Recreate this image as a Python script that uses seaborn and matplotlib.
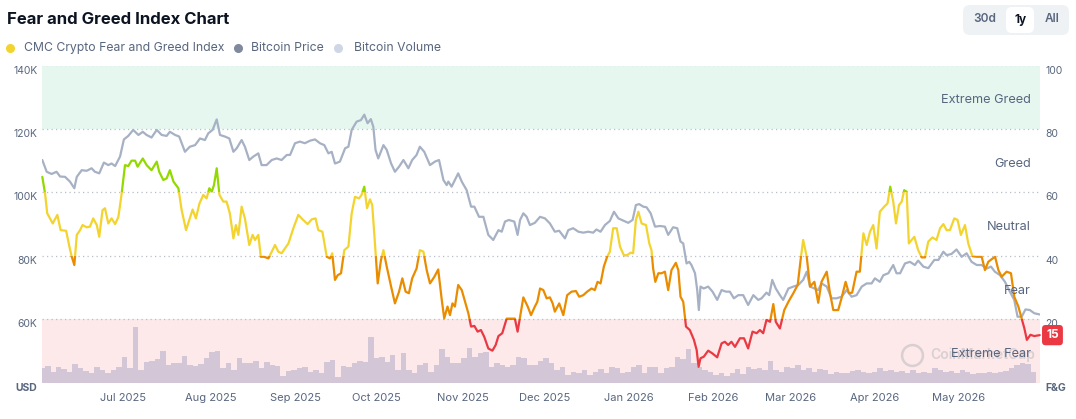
#!/usr/bin/env python3
"""Fear and Greed Index chart: F&G index, Bitcoin price and volume over one year."""

import numpy as np
import pandas as pd
import matplotlib
matplotlib.use("Agg")
import matplotlib.pyplot as plt
import matplotlib.dates as mdates
from matplotlib.patches import Rectangle, FancyBboxPatch
from matplotlib.lines import Line2D
from matplotlib.transforms import IdentityTransform, blended_transform_factory
import seaborn as sns

# ------------------------------------------------------------------
# Data, days counted from START_DATE
# ------------------------------------------------------------------
START_DATE = "2025-06-10"
END_DAY = 364.4

price_day = [
    0.0, 1.6, 3.4, 5.2, 6.5, 8.3, 10.1, 11.7, 12.6, 14.4,
    16.2, 18.0, 19.2, 20.8, 22.5, 24.1, 25.3, 26.6, 28.4, 29.8,
    31.4, 33.2, 35.1, 36.7, 38.1, 39.9, 41.8, 43.6, 45.4, 46.6,
    48.5, 50.0, 52.1, 53.9, 55.8, 57.6, 59.4, 60.6, 62.2, 63.7,
    64.9, 66.7, 68.3, 69.8, 71.0, 72.8, 74.0, 75.6, 77.1, 78.9,
    80.1, 81.9, 83.8, 85.6, 87.4, 89.3,
    90.5, 92.3, 94.1, 95.9, 97.8, 99.6, 101.4, 103.0, 104.5, 105.7,
    106.9, 108.7, 110.6, 111.8, 113.0, 114.8, 116.4, 117.6, 118.8, 120.0,
    120.9, 121.7, 122.7, 124.6, 125.8, 127.4, 128.8, 130.3, 131.9, 133.7,
    135.1, 136.7, 137.9, 139.5, 141.6, 143.4, 144.9, 146.5, 147.7, 148.3,
    149.5, 150.7, 151.9, 153.2, 155.0, 156.6, 157.8, 159.5, 161.1, 162.9,
    164.7, 166.6, 167.8, 169.0, 170.4, 172.4, 173.6, 174.5, 175.7, 176.9,
    178.1, 179.9,
    181.8, 183.6, 185.4, 187.2, 188.8, 190.9, 192.1, 193.9, 195.8, 197.6,
    199.4, 201.2, 202.4, 203.9, 205.5, 207.3, 208.8, 210.4, 212.2, 214.0,
    215.6, 216.8, 218.0, 219.5, 220.7, 222.2, 223.8, 225.6, 227.4, 228.6,
    230.4, 231.9, 233.1, 234.1, 235.3, 236.3, 237.1, 238.4, 239.2, 239.8,
    240.4, 241.6, 243.2, 244.8, 246.5, 248.1, 249.7, 251.1, 252.6, 254.2,
    256.0, 257.8, 259.7, 261.5, 262.7, 264.5, 265.5, 266.6, 267.9, 269.4,
    270.6, 272.5, 274.3, 276.1, 277.9, 279.2, 280.4, 282.0, 283.4, 284.6,
    286.5, 288.3, 290.1, 291.9, 293.8, 295.6, 297.4, 299.3, 301.1, 302.9,
    304.1, 305.9, 307.2, 309.0, 310.8, 312.0, 313.3, 315.1, 316.9, 318.7,
    319.9, 321.8, 323.6, 325.8, 327.3, 329.1, 330.3, 332.1, 333.9, 335.8,
    337.6, 339.4, 341.3, 343.1, 344.9, 346.5, 347.9, 349.8, 351.6, 353.4,
    355.0, 356.2, 357.7, 359.1, 360.7, 362.3, 364.3,
]
price_k = [
    110.2, 106.5, 105.8, 106.5, 105.0, 104.9, 103.4, 101.3, 104.9, 107.0,
    106.8, 107.6, 106.5, 106.0, 109.4, 108.6, 109.1, 108.3, 111.3, 116.7,
    117.8, 119.7, 118.1, 119.1, 118.1, 117.3, 119.7, 118.1, 117.8, 119.1,
    118.1, 117.6, 112.8, 114.4, 114.9, 117.0, 116.5, 118.6, 119.7, 123.0,
    118.1, 117.6, 117.0, 112.8, 113.9, 116.5, 114.4, 110.2, 111.3, 112.3,
    108.6, 108.6, 110.2, 110.7, 110.2, 111.8,
    111.8, 115.5, 116.0, 115.5, 116.3, 116.7, 115.5, 114.9, 112.3, 112.8,
    109.1, 109.7, 113.9, 114.4, 119.7, 122.3, 122.8, 124.5, 121.8, 123.1,
    120.7, 113.4, 110.7, 114.9, 113.4, 109.1, 106.5, 108.1, 110.2, 107.6,
    110.2, 111.8, 114.4, 112.8, 108.6, 109.7, 110.2, 103.9, 102.3, 103.4,
    101.8, 103.9, 106.0, 103.4, 100.7, 95.5, 95.5, 92.3, 92.3, 86.6,
    85.0, 88.1, 87.6, 90.8, 91.3, 90.8, 86.6, 91.3, 93.4, 92.3,
    89.7, 90.4,
    92.3, 91.8, 90.2, 87.6, 87.9, 85.5, 88.1, 88.7, 87.6, 87.3,
    87.6, 87.3, 88.3, 87.6, 89.7, 91.0, 93.9, 91.8, 91.1, 90.4,
    91.3, 96.0, 96.3, 95.5, 95.3, 93.4, 89.2, 89.4, 89.2, 86.6,
    89.0, 88.7, 84.5, 83.9, 77.6, 78.1, 77.1, 74.5, 69.2, 62.9,
    70.3, 69.7, 70.3, 68.7, 66.1, 69.2, 68.7, 68.7, 66.6, 67.6,
    67.6, 64.5, 67.6, 66.1, 66.6, 68.4, 67.6, 72.4, 69.7, 67.6,
    66.1, 69.7, 70.3, 70.8, 72.4, 75.0, 70.3, 69.7, 69.2, 71.3,
    70.3, 66.6, 66.6, 67.1, 69.2, 67.1, 67.6, 70.3, 71.3, 71.3,
    72.9, 71.8, 73.9, 74.5, 77.1, 74.5, 74.5, 77.6, 78.1, 77.1,
    78.5, 76.6, 76.1, 78.7, 78.7, 81.3, 80.2, 80.6, 82.0, 79.7,
    80.8, 78.1, 77.1, 77.1, 76.0, 76.6, 75.0, 73.9, 71.8, 68.7,
    66.1, 60.8, 60.8, 63.1, 62.9, 61.9, 61.5,
]

fg_day = [
    0.0, 1.0, 1.8, 3.8, 5.5, 6.7, 8.7, 9.9, 10.7, 11.7,
    12.6, 13.8, 14.7, 16.2, 17.4, 18.6, 19.9, 20.8, 22.0, 22.9,
    24.1, 25.3, 26.6, 27.8, 29.0, 30.2, 31.4, 32.6, 33.9, 34.8,
    36.7, 38.1, 39.9, 41.8, 42.7, 44.2, 45.4, 46.6, 47.9, 49.7,
    50.9, 52.5, 53.7, 54.9, 56.1, 57.4, 58.8, 60.0, 61.0, 61.9,
    62.7, 63.7, 64.7, 66.1, 67.3, 68.5, 69.8, 70.7, 71.6, 72.8,
    74.0, 75.6, 76.8, 77.7, 78.9, 79.8, 81.0, 82.6, 83.8, 85.0,
    86.2, 87.4, 88.6, 89.9,
    91.7, 93.5, 95.3, 96.9, 98.4, 99.8, 100.8, 102.3, 103.9, 105.1,
    105.9, 106.9, 107.9, 109.1, 110.3, 111.8, 113.0, 114.2, 115.7, 116.6,
    117.6, 118.6, 119.7, 120.5, 121.5, 122.5, 123.7, 124.6, 125.8, 127.4,
    128.8, 130.3, 131.5, 132.7, 133.9, 135.1, 136.7, 137.9, 139.2, 140.4,
    141.6, 143.2, 144.6, 145.9, 146.8, 148.0, 148.9, 149.8, 150.7, 151.9,
    153.2, 154.4, 155.6, 156.6, 157.8, 159.0, 160.2, 161.4, 162.9, 164.4,
    165.6, 166.6, 168.0, 169.6, 171.2, 172.6, 173.6, 174.5, 175.7, 177.3,
    178.5, 179.9,
    180.8, 181.8, 183.0, 184.2, 185.4, 186.4, 187.2, 188.8, 190.3, 191.7,
    193.3, 194.9, 196.1, 197.6, 199.0, 200.6, 201.8, 202.8, 203.9, 205.1,
    206.3, 207.3, 208.5, 209.8, 211.0, 212.4, 213.6, 214.9, 215.8, 216.8,
    217.7, 218.9, 220.5, 221.7, 222.5, 223.1, 223.9, 225.0, 226.2, 227.4,
    228.6, 229.8, 231.4, 232.3, 233.1, 234.1, 235.1, 236.5, 238.0, 239.0,
    239.7, 240.4, 241.6, 243.2, 244.8, 246.5, 248.1, 249.3, 250.5, 251.7,
    253.0, 254.8, 256.3, 257.8, 259.4, 260.9, 262.1, 263.3, 264.5, 265.8,
    267.0, 267.9, 269.4,
    271.0, 272.5, 274.3, 275.9, 277.1, 277.9, 279.2, 280.4, 282.0, 283.4,
    284.6, 286.5, 287.7, 288.9, 290.7, 291.9, 293.4, 294.6, 295.8, 297.4,
    298.6, 299.9, 301.1, 302.3, 303.5, 304.7, 305.9, 307.5, 308.7, 309.7,
    310.8, 311.8, 312.9, 313.9, 314.8, 315.7, 316.5, 317.5, 318.5, 319.9,
    321.2, 322.4, 323.6, 325.1, 326.6, 327.9, 329.1, 330.3, 331.5, 333.1,
    334.3, 335.5, 337.0, 338.2, 339.7, 341.3, 343.1, 344.3, 345.5, 346.7,
    348.0, 349.2, 350.4, 352.2, 353.8, 355.0, 356.5, 357.7, 358.7, 359.6,
    360.9, 362.3, 364.3,
]
fg_val = [
    64.9, 59.7, 53.4, 50.2, 52.9, 48.1, 47.9, 42.9, 39.9, 37.1,
    46.6, 48.1, 49.7, 49.0, 49.2, 51.8, 49.7, 46.0, 54.4, 55.0,
    50.2, 51.8, 50.0, 52.3, 59.7, 68.6, 68.3, 70.0, 70.0, 68.1,
    70.7, 68.6, 67.0, 69.7, 66.5, 63.9, 64.4, 67.0, 63.4, 61.3,
    54.4, 48.1, 51.3, 54.6, 51.8, 56.5, 59.2, 58.1, 61.3, 60.2,
    62.3, 67.6, 59.2, 57.1, 57.1, 53.4, 45.5, 49.7, 46.6, 55.5,
    51.8, 43.4, 46.6, 45.0, 46.6, 39.7, 39.7, 39.2, 41.3, 43.4,
    41.3, 40.8, 42.3, 43.9,
    48.7, 52.9, 51.3, 50.0, 51.5, 51.8, 48.1, 47.6, 39.7, 39.2,
    40.8, 32.4, 33.9, 34.5, 41.8, 42.9, 53.4, 58.6, 58.1, 59.2,
    61.8, 55.0, 57.8, 56.0, 43.9, 31.3, 38.7, 41.8, 36.6, 30.3,
    25.0, 28.7, 32.9, 28.7, 28.2, 32.9, 36.0, 41.8, 41.3, 35.5,
    31.3, 33.4, 35.7, 26.1, 20.3, 24.0, 21.3, 25.0, 24.0, 30.8,
    29.2, 25.5, 21.9, 17.7, 17.9, 16.1, 16.6, 14.5, 10.8, 10.1,
    11.9, 14.7, 15.6, 20.2, 20.2, 20.2, 16.1, 20.8, 26.9, 24.0,
    21.3, 24.0,
    25.5, 29.7, 29.2, 26.6, 26.9, 25.0, 22.4, 25.0, 21.3, 27.6,
    28.7, 28.9, 27.1, 27.6, 28.7, 29.7, 29.2, 31.8, 31.3, 36.6,
    39.7, 41.3, 48.7, 48.7, 42.9, 40.2, 40.2, 41.0, 40.8, 51.3,
    53.9, 50.2, 49.7, 43.9, 41.8, 36.0, 31.8, 34.5, 34.5, 35.0,
    29.2, 35.5, 37.8, 35.5, 27.1, 25.5, 17.7, 16.6, 13.5, 10.3,
    5.0, 7.7, 8.2, 10.1, 9.2, 8.0, 12.4, 12.9, 11.9, 12.9,
    11.3, 14.0, 14.0, 10.8, 16.1, 15.6, 16.6, 15.6, 19.8, 19.2,
    24.8, 19.2, 17.1,
    22.9, 25.5, 28.2, 30.8, 39.7, 45.0, 39.7, 30.3, 31.8, 25.2,
    31.8, 35.0, 28.2, 22.9, 22.9, 26.6, 31.8, 28.2, 28.4, 35.0,
    35.0, 47.1, 43.4, 47.6, 49.7, 42.3, 53.9, 55.5, 56.5, 61.8,
    57.1, 50.2, 56.0, 57.1, 60.7, 60.2, 43.9, 45.0, 46.0, 41.8,
    39.5, 39.5, 44.5, 45.8, 45.0, 48.7, 50.0, 48.1, 48.1, 51.8,
    51.3, 46.6, 49.7, 43.9, 39.9, 39.7, 39.7, 35.5, 38.1, 38.9,
    39.7, 35.5, 33.4, 35.0, 34.5, 27.1, 24.0, 20.3, 17.1, 13.5,
    15.1, 14.7, 15.0,
]

# daily volume bars, one value every 2 days from day 0 (approx. $B)
vol_b = [
    43, 50, 33, 48, 40, 33, 56, 43, 36, 28, 46, 38, 28, 38, 48, 78, 43, 166, 38, 63,
    66, 70, 96, 53, 60, 58, 80, 53, 50, 56, 73, 93, 96, 43, 58, 38, 73, 58, 58, 66,
    43, 63, 53, 50, 20, 36,
    38, 43, 48, 33, 38, 28, 61, 68, 18, 50, 48, 58, 66, 63, 138, 73, 78, 63, 83, 38,
    90, 38, 28, 53, 58, 33, 53, 100, 78, 58, 58, 73, 103, 78, 88, 93, 48, 58, 53, 48,
    53, 78, 73, 53,
    53, 66, 73, 58, 38, 48, 23, 33, 28, 38, 23, 33, 40, 28, 46, 43, 28, 33, 48, 53,
    28, 46, 48, 28, 43, 48, 76, 70, 100, 60, 48, 38, 33, 23, 28, 20, 28, 40, 26, 48,
    40, 43, 38, 66, 38,
    33, 48, 43, 53, 38, 43, 33, 40, 38, 26, 33, 30, 28, 36, 38, 33, 30, 33, 43, 36,
    38, 33, 36, 30, 38, 28, 33, 30, 43, 38, 33, 36, 30, 38, 33, 26, 30, 28, 33, 30,
    33, 36, 43, 53, 58, 56, 33,
]
vol_day = np.arange(0, 2 * len(vol_b), 2)

month_ticks = ["2025-07-01", "2025-08-01", "2025-09-01", "2025-10-01", "2025-11-01",
               "2025-12-01", "2026-01-01", "2026-02-01", "2026-03-01", "2026-04-01",
               "2026-05-01"]
price_ticks = [40, 60, 80, 100, 120, 140]
price_labels = ["USD", "60K", "80K", "100K", "120K", "140K"]
fg_ticks = [0, 20, 40, 60, 80, 100]
fg_labels = ["F&G", "20", "40", "60", "80", "100"]

# F&G zones: (low, high, line colour, label)
fg_zones = [
    (0, 20, "#ea3943", "Extreme Fear"),
    (20, 40, "#ea8c00", "Fear"),
    (40, 60, "#f3d42f", "Neutral"),
    (60, 80, "#93d900", "Greed"),
    (80, 100, "#16c784", "Extreme Greed"),
]

# ------------------------------------------------------------------
# Style
# ------------------------------------------------------------------
sns.set_style("white")
plt.rcParams["font.family"] = ["Inter", "DejaVu Sans"]
TXT = "#58667e"

W, H = 1076, 419
fig = plt.figure(figsize=(W / 100, H / 100), dpi=100)


def fx(px):
    return px / W


def fy(py):
    return 1 - py / H


ax = fig.add_axes([fx(42.3), fy(382.7), (1040 - 42.3) / W, (382.7 - 65.5) / H])
ax_vol = ax.twinx()
ax_fg = ax.twinx()

start = mdates.date2num(pd.Timestamp(START_DATE))
price_x = start + np.array(price_day)
fg_x = start + np.array(fg_day)
vol_x = start + vol_day

# background zones
ax.axhspan(120, 140, color="#e6f7f0", lw=0, zorder=0)
ax.axhspan(40, 60, color="#fde9e9", lw=0, zorder=0)

# volume bars
sns.histplot(x=vol_x, weights=vol_b, binwidth=2, binrange=(start - 1, start + 2 * len(vol_b) - 1),
             color="#d3c6d6", alpha=1, edgecolor="none", linewidth=0, ax=ax_vol)
ax_vol.set_ylim(0, 951)
ax_vol.set_axis_off()

# price line
sns.lineplot(x=price_x, y=price_k, ax=ax, color="#a7b1c4", linewidth=1.6, legend=False)
ax.lines[-1].set_solid_joinstyle("round")

# F&G line, coloured by zone through clipping
for lo, hi, col, _ in fg_zones:
    sns.lineplot(x=fg_x, y=fg_val, ax=ax_fg, color=col, linewidth=1.6, legend=False)
    line = ax_fg.lines[-1]
    line.set_solid_joinstyle("round")
    line.set_clip_path(Rectangle((start - 20, lo if lo > 0 else -10), 420,
                                 (hi - lo) + (10 if lo == 0 else 0),
                                 transform=ax_fg.transData))

# ------------------------------------------------------------------
# Axes
# ------------------------------------------------------------------
ax.set_ylim(40, 140)
ax_fg.set_ylim(0, 100)
ax.set_xlim(start, start + END_DAY)

ax.tick_params(axis="y", length=0, pad=3.6, labelsize=7.5, labelcolor=TXT)
ax.tick_params(axis="x", length=0, pad=7.3, labelsize=8, labelcolor=TXT)
ax_fg.tick_params(axis="y", length=0, pad=3.6, labelsize=7.5, labelcolor=TXT)

ax.set_yticks(price_ticks, labels=price_labels)
ax_fg.set_yticks(fg_ticks, labels=fg_labels)
for lab in ax.get_yticklabels() + ax_fg.get_yticklabels():
    lab.set_verticalalignment("top")
ax.get_yticklabels()[0].set_fontweight("bold")
ax_fg.get_yticklabels()[0].set_fontweight("bold")

tick_dates = pd.to_datetime(month_ticks)
ax.set_xticks(mdates.date2num(tick_dates),
              labels=[d.strftime("%b %Y") for d in tick_dates], ha="left")

ax.grid(axis="y", color="#b9bfc9", linestyle=(0, (1, 2.6)), linewidth=0.9)
ax.grid(axis="x", visible=False)
ax.set_axisbelow(True)
for a in (ax, ax_vol, ax_fg):
    a.set_xlabel("")
    a.set_ylabel("")
    for sp in a.spines.values():
        sp.set_visible(False)

# zone labels on the right
lab_tr = blended_transform_factory(ax_fg.transAxes, ax_fg.transData)
for lo, hi, _, name in fg_zones:
    ax_fg.text(0.9906, (lo + hi) / 2 - 1, name, transform=lab_tr, ha="right", va="center",
               fontsize=9.2, color=TXT, zorder=5)

# watermark
ax.plot([0.8717], [0.0873], marker="o", ms=15, mfc="none", mec="#d9cfd3", mew=1.8,
        transform=ax.transAxes, zorder=1)
ax.text(0.8903, 0.0873, "CoinMarketCap", transform=ax.transAxes, ha="left", va="center",
        fontsize=10, fontweight="semibold", color="#d9cfd3", zorder=1)

# current value badge
ax_fg.text(1.0125, fg_val[-1], f"{fg_val[-1]:.0f}", transform=lab_tr, ha="center", va="center",
           fontsize=8.5, fontweight="bold", color="white", clip_on=False, zorder=6,
           bbox=dict(boxstyle="round,pad=0.35,rounding_size=0.3", fc="#ea3943", ec="none"))

# ------------------------------------------------------------------
# Title, legend and range buttons
# ------------------------------------------------------------------
fig.text(fx(7), fy(19), "Fear and Greed Index Chart", fontsize=12, fontweight="bold",
         va="center", color="#0d1421")

legend_items = [
    (10, 24, "#f3d42f", "CMC Crypto Fear and Greed Index"),
    (238, 251, "#808a9d", "Bitcoin Price"),
    (338, 354, "#cfd6e4", "Bitcoin Volume"),
]
for dot_x, txt_x, col, name in legend_items:
    fig.add_artist(Line2D([fx(dot_x)], [fy(48)], marker="o", ms=5.5, color=col,
                          linestyle="none", transform=fig.transFigure))
    fig.text(fx(txt_x), fy(48), name, fontsize=8.8, color=TXT, va="center")

fig.add_artist(FancyBboxPatch((963, H - 35), 106, 30, boxstyle="round,pad=0,rounding_size=7",
                              fc="#eff2f5", ec="none", transform=IdentityTransform()))
fig.add_artist(FancyBboxPatch((1006, H - 33), 28, 26, boxstyle="round,pad=0,rounding_size=6",
                              fc="white", ec="none", transform=IdentityTransform()))
fig.text(fx(984.4), fy(19.5), "30d", fontsize=8.5, fontweight="semibold", color=TXT,
         ha="center", va="center")
fig.text(fx(1020.3), fy(19.5), "1y", fontsize=8.5, fontweight="bold", color="#0d1421",
         ha="center", va="center")
fig.text(fx(1052), fy(19.5), "All", fontsize=8.5, fontweight="semibold", color=TXT,
         ha="center", va="center")

fig.savefig("out.png", dpi=100)
plt.close(fig)
